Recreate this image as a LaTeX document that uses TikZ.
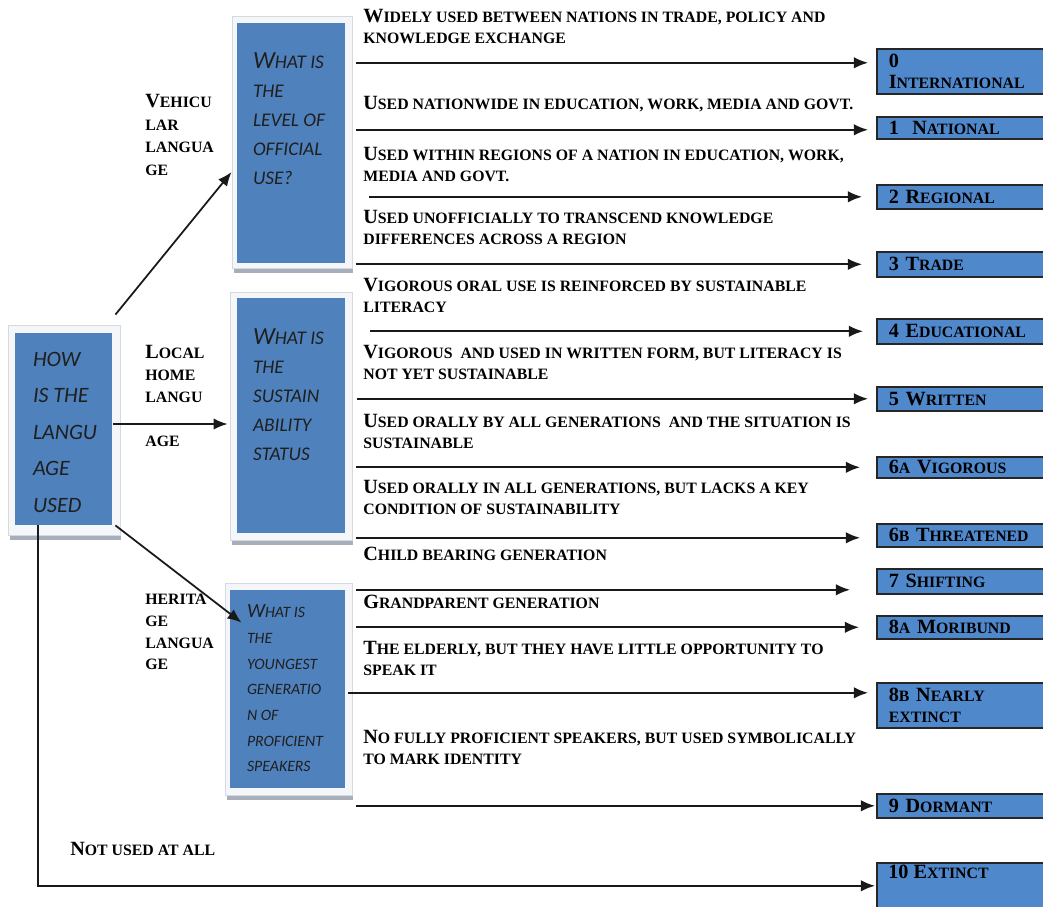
\documentclass[tikz,border=0pt]{standalone}
\usepackage{fontspec}
\setmainfont{Liberation Serif}
\newfontfamily\qfont{Carlito}
\usetikzlibrary{arrows.meta,shadows}
\definecolor{qblue}{HTML}{4F81BD}
\definecolor{rblue}{HTML}{5088CC}
\definecolor{frm}{HTML}{F4F6F9}
\definecolor{frmline}{HTML}{D5DAE1}
\definecolor{shd}{HTML}{A7AFBB}
\newcommand\smc[1]{{\fontsize{9pt}{12pt}\selectfont\MakeUppercase{#1}}}
\newcommand\qbig[1]{{\fontsize{14pt}{16pt}\selectfont #1}}
\newcommand\qbigs[1]{{\fontsize{11.5pt}{14pt}\selectfont #1}}
\tikzset{
  frmbox/.style={draw=frmline, fill=frm, line width=0.5pt, inner sep=0pt,
    drop shadow={shadow xshift=0.03cm, shadow yshift=-0.1cm, fill=shd, opacity=1}},
  qbox/.style={fill=qblue, draw=none, inner sep=0pt},
  qtxt/.style={anchor=north west, inner sep=0pt, align=left, text=black!88,
    font=\qfont\itshape\fontsize{11pt}{16.4pt}\selectfont},
  rbox/.style={draw=black!85, line width=0.9pt, fill=rblue, anchor=north west,
    minimum width=3.8cm, inner xsep=0.24cm, inner ysep=0pt, text width=3.32cm,
    align=left, font=\fontsize{11.5pt}{11.5pt}\selectfont\bfseries},
  desc/.style={anchor=north west, inner sep=0pt, align=left,
    font=\fontsize{11.5pt}{12pt}\selectfont\bfseries},
  arr/.style={-{Latex[length=8pt,width=6.5pt]}, line width=1pt, black!90},
}
\begin{document}
\begin{tikzpicture}[x=0.02cm,y=-0.02cm]
\useasboundingbox (0,0) rectangle (1043,906);
\clip (0,0) rectangle (1043,906);
\fill[white] (0,0) rectangle (1043,906);

% ---------- question boxes ----------
\node[frmbox, minimum width=2.24cm, minimum height=4.2cm] (f0) at (64,430) {};
\node[qbox, minimum width=1.94cm, minimum height=3.84cm] (q0) at (63.5,429) {};
\node[qtxt, font=\qfont\itshape\fontsize{12.5pt}{20.8pt}\selectfont] (t0) at ([shift={(18,19)}]q0.north west) {HOW\\IS THE\\LANGU\\AGE\\USED};

\node[frmbox, minimum width=2.4cm, minimum height=5.04cm] (f1) at (292,142) {};
\node[qbox, minimum width=2.16cm, minimum height=4.8cm] (q1) at (291,143) {};
\node[qtxt] (tq1) at ([shift={(16,30)}]q1.north west) {\qbig{W}HAT IS\\THE\\LEVEL OF\\OFFICIAL\\USE?};

\node[frmbox, minimum width=2.44cm, minimum height=4.96cm] (f2) at (291,416) {};
\node[qbox, minimum width=2.16cm, minimum height=4.7cm] (q2) at (291,415.5) {};
\node[qtxt] (tq2) at ([shift={(16,31)}]q2.north west) {\qbig{W}HAT IS\\THE\\SUSTAIN\\ABILITY\\STATUS};

\node[frmbox, minimum width=2.54cm, minimum height=4.24cm] (f3) at (288.5,689) {};
\node[qbox, minimum width=2.3cm, minimum height=3.96cm] (q3) at (287.5,689) {};
\node[qtxt, font=\qfont\itshape\fontsize{9pt}{14.6pt}\selectfont] (tq3) at ([shift={(17,15)}]q3.north west) {\qbigs{W}HAT IS\\THE\\YOUNGEST\\GENERATIO\\N OF\\PROFICIENT\\SPEAKERS};

% ---------- left labels ----------
\node[desc, font=\fontsize{11.5pt}{12.8pt}\selectfont\bfseries] (lv) at (145,94) {V\smc{ehicu}\\\smc{lar}\\\smc{langua}\\\smc{ge}};
\node[desc, font=\fontsize{11.5pt}{12.6pt}\selectfont\bfseries] (ll) at (145,345) {L\smc{ocal}\\\smc{home}\\\smc{langu}\\[12.4pt]\smc{age}};
\node[desc, font=\fontsize{11.5pt}{12.3pt}\selectfont\bfseries] (lh) at (145,594) {\smc{herita}\\\smc{ge}\\\smc{langua}\\\smc{ge}};
\node[desc] (ln) at (70,842) {N\smc{ot used at all}};

% ---------- right level boxes ----------
\node[rbox, minimum height=0.9cm] (b0) at (876,48) {0\\I\smc{nternational}};
\node[rbox, minimum height=0.44cm] (b1) at (876,116) {1\ \ N\smc{ational}};
\node[rbox, minimum height=0.48cm] (b2) at (876,184) {2 R\smc{egional}};
\node[rbox, minimum height=0.5cm] (b3) at (876,251) {3 T\smc{rade}};
\node[rbox, minimum height=0.5cm] (b4) at (876,318) {4 E\smc{ducational}};
\node[rbox, minimum height=0.48cm] (b5) at (876,386) {5 W\smc{ritten}};
\node[rbox, minimum height=0.42cm] (b6a) at (876,456) {6\smc{a} V\smc{igorous}};
\node[rbox, minimum height=0.46cm] (b6b) at (876,523) {6\smc{b} T\smc{hreatened}};
\node[rbox, minimum height=0.5cm] (b7) at (876,568) {7 S\smc{hifting}};
\node[rbox, minimum height=0.46cm] (b8a) at (876,615) {8\smc{a} M\smc{oribund}};
\node[rbox, minimum height=0.9cm] (b8b) at (876,682) {8\smc{b} N\smc{early}\\\smc{extinct}};
\node[rbox, minimum height=0.48cm] (b9) at (876,793) {9 D\smc{ormant}};
\node[rbox, minimum height=1.36cm] (b10) at (876,862) {};
\node[desc] (t10) at ([shift={(12,3)}]b10.north west) {10 E\smc{xtinct}};

% ---------- descriptions ----------
\node[desc] (d1) at (363,9) {W\smc{idely used between nations in trade, policy and}\\\smc{knowledge exchange}};
\node[desc] (d2) at (363,96) {U\smc{sed nationwide in education, work, media and govt.}};
\node[desc] (d3) at (363,147) {U\smc{sed within regions of a nation in education, work,}\\\smc{media and govt.}};
\node[desc] (d4) at (363,210) {U\smc{sed unofficially to transcend knowledge}\\\smc{differences across a region}};
\node[desc] (d5) at (363,278) {V\smc{igorous oral use is reinforced by sustainable}\\\smc{literacy}};
\node[desc] (d6) at (363,345) {V\smc{igorous\ \ and used in written form, but literacy is}\\\smc{not yet sustainable}};
\node[desc] (d7) at (363,414) {U\smc{sed orally by all generations\ \ and the situation is}\\\smc{sustainable}};
\node[desc] (d8) at (363,480) {U\smc{sed orally in all generations, but lacks a key}\\\smc{condition of sustainability}};
\node[desc] (d9) at (363,547) {C\smc{hild bearing generation}};
\node[desc] (d10) at (363,595) {G\smc{randparent generation}};
\node[desc] (d11) at (363,641) {T\smc{he elderly, but they have little opportunity to}\\\smc{speak it}};
\node[desc] (d12) at (363,730) {N\smc{o fully proficient speakers, but used symbolically}\\\smc{to mark identity}};

% ---------- connectors from main box ----------
\draw[arr] ([shift={(-5,-10)}]f0.north east) -- ([shift={(0,30)}]f1.west);
\draw[arr] ([shift={(-7,-6)}]f0.east) -- ([shift={(-2,8)}]f2.west);
\draw[arr] ([shift={(-5,-10)}]f0.south east) -- ([shift={(17,40)}]f3.north west);
\coordinate (e10) at ([shift={(0,-11)}]b10.west);
\draw[arr, shorten >=0.02cm] ([shift={(-26,-10)}]f0.south) |- (e10);

% ---------- connectors to levels ----------
\coordinate (e0) at ([yshift=0.17cm]b0.west);
\coordinate (e1) at ([yshift=-0.04cm]b1.west);
\coordinate (e6b) at ([yshift=-0.05cm]b6b.west);
\coordinate (e7) at ([yshift=-0.17cm]b7.west);
\coordinate (e8b) at ([yshift=0.25cm]b8b.west);
\draw[arr, shorten <=0.08cm, shorten >=0.16cm] (f1.east |- e0) -- (e0);
\draw[arr, shorten <=0.08cm, shorten >=0.16cm] (f1.east |- e1) -- (e1);
\draw[arr, shorten <=0.34cm, shorten >=0.28cm] (f1.east |- b2.west) -- (b2.west);
\draw[arr, shorten <=0.08cm, shorten >=0.28cm] (f1.east |- b3.west) -- (b3.west);
\draw[arr, shorten <=0.36cm, shorten >=0.26cm] (f2.east |- b4.west) -- (b4.west);
\draw[arr, shorten <=0.10cm, shorten >=0.16cm] (f2.east |- b5.west) -- (b5.west);
\draw[arr, shorten <=0.08cm, shorten >=0.32cm] (f2.east |- b6a.west) -- (b6a.west);
\draw[arr, shorten <=0.08cm, shorten >=0.32cm] (f2.east |- e6b) -- (e6b);
\draw[arr, shorten <=0.08cm, shorten >=0.52cm] (f3.east |- e7) -- (e7);
\draw[arr, shorten <=0.08cm, shorten >=0.34cm] (f3.east |- b8a.west) -- (b8a.west);
\draw[arr, shorten <=-0.08cm, shorten >=0.16cm] (f3.east |- e8b) -- (e8b);
\draw[arr, shorten <=0.08cm, shorten >=0.02cm] (f3.east |- b9.west) -- (b9.west);
\end{tikzpicture}
\end{document}
